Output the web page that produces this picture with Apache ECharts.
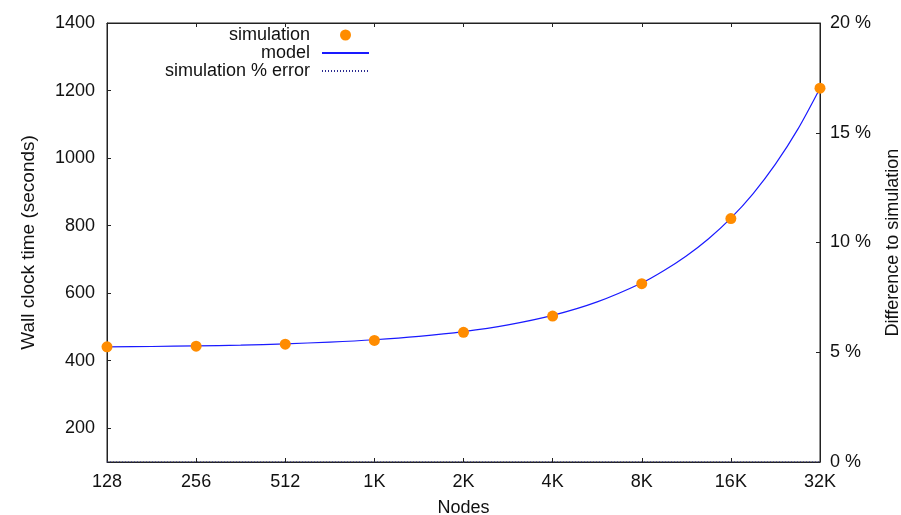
<!DOCTYPE html>
<html>
<head>
<meta charset="utf-8">
<script src="https://cdn.jsdelivr.net/npm/echarts@6/dist/echarts.min.js"></script>
<style>
html,body{margin:0;padding:0;background:#fff;}
#chart{width:901px;height:515px;}
</style>
</head>
<body>
<div id="chart"></div>
<script>
// Node counts (x categories, evenly spaced on a log2 scale)
const nodeLabels = ['128', '256', '512', '1K', '2K', '4K', '8K', '16K', '32K'];
// Simulation wall-clock time (seconds) at each node count
const simulationValues = [441, 443, 449, 460, 484, 532, 628, 821, 1207];
// Model curve: positions (in node-label steps) and values
const modelPositions = [0, 0.5, 1, 1.5, 2, 2.5, 3, 3.5, 4, 4.5, 5, 5.5, 6, 6.25, 6.5, 6.75, 7, 7.25, 7.5, 7.75, 8];
const modelValues = [441, 442, 444, 446, 450, 455, 462, 472, 486, 506, 534, 574, 630, 667, 710, 761, 822, 895, 982, 1085, 1207];
// Simulation % error (right axis), lies on the 0 % line
const errorValues = [0, 0, 0, 0, 0, 0, 0, 0, 0];
// Tick labels
const leftTicks = [200, 400, 600, 800, 1000, 1200, 1400];
const rightTicks = [0, 5, 10, 15, 20];

const FONT = 'Liberation Sans, Arial, Helvetica, sans-serif';
const FS = 18;
const chart = echarts.init(document.getElementById('chart'));

const simData = simulationValues.map((v, i) => [i, v]);
const modelData = modelValues.map((v, i) => [modelPositions[i], v]);
const errData = errorValues.map((v, i) => [i, v]);

const axisLineStyle = {color: '#222', width: 1};
const hiddenSymbol = {color: 'rgba(0,0,0,0)', borderColor: 'rgba(0,0,0,0)', borderWidth: 0, opacity: 0};

chart.setOption({
  animation: false,
  backgroundColor: '#fff',
  textStyle: {fontFamily: FONT},
  grid: {left: 107, right: 81, top: 23, bottom: 53, show: true, borderColor: '#222', borderWidth: 1,
    containLabel: false, outerBoundsMode: 'none'},
  legend: {
    right: 531, top: 26, orient: 'vertical', align: 'right',
    itemWidth: 47, itemHeight: 11, itemGap: 0, padding: 0,
    textStyle: {fontFamily: FONT, fontSize: FS, color: '#111', lineHeight: 18, padding: [0, 7, 0, 0]},
    data: [
      {name: 'simulation', icon: 'circle'},
      {name: 'model', itemStyle: hiddenSymbol},
      {name: 'simulation % error', itemStyle: hiddenSymbol}
    ]
  },
  xAxis: [{
    type: 'value', min: 0, max: nodeLabels.length - 1, interval: 1,
    name: 'Nodes', nameLocation: 'middle', nameGap: 37,
    nameTextStyle: {fontFamily: FONT, fontSize: FS, color: '#111'},
    axisLine: {show: true, onZero: false, lineStyle: axisLineStyle},
    axisTick: {show: true, inside: true, length: 4, lineStyle: axisLineStyle},
    axisLabel: {fontFamily: FONT, fontSize: FS, color: '#111', margin: 11,
      formatter: v => nodeLabels[Math.round(v)] ?? ''},
    splitLine: {show: false}
  }, {
    type: 'value', position: 'top', min: 0, max: nodeLabels.length - 1, interval: 1,
    axisLine: {show: true, onZero: false, lineStyle: axisLineStyle},
    axisTick: {show: true, inside: true, length: 4, lineStyle: axisLineStyle},
    axisLabel: {show: false},
    splitLine: {show: false}
  }],
  yAxis: [{
    type: 'value', min: 100, max: 1400,
    name: 'Wall clock time (seconds)', nameLocation: 'middle', nameGap: 69,
    nameTextStyle: {fontFamily: FONT, fontSize: FS + 1, color: '#111'},
    axisLine: {show: true, onZero: false, lineStyle: axisLineStyle},
    axisTick: {show: true, inside: true, length: 4, lineStyle: axisLineStyle, customValues: leftTicks},
    axisLabel: {fontFamily: FONT, fontSize: FS, color: '#111', margin: 12, customValues: leftTicks,
      formatter: v => (leftTicks.indexOf(v) >= 0 ? String(v) : '')},
    splitLine: {show: false}
  }, {
    type: 'value', position: 'right', min: 0, max: 20, interval: 5,
    name: 'Difference to simulation', nameLocation: 'middle', nameGap: 64,
    nameTextStyle: {fontFamily: FONT, fontSize: FS, color: '#111'},
    axisLine: {show: true, onZero: false, lineStyle: axisLineStyle},
    axisTick: {show: true, inside: true, length: 4, lineStyle: axisLineStyle},
    axisLabel: {fontFamily: FONT, fontSize: FS, color: '#111', margin: 10,
      formatter: v => (rightTicks.indexOf(v) >= 0 ? v + ' %' : '')},
    splitLine: {show: false}
  }],
  series: [{
    name: 'model', type: 'line', xAxisIndex: 0, yAxisIndex: 0,
    data: modelData, smooth: 0.3, symbol: 'none', z: 3,
    lineStyle: {color: '#1a1aff', width: 1.2},
    itemStyle: {color: '#1a1aff'}
  }, {
    name: 'simulation % error', type: 'line', xAxisIndex: 0, yAxisIndex: 1,
    data: errData, symbol: 'none', z: 2,
    lineStyle: {color: '#2a2a90', width: 1, type: [1, 2]},
    itemStyle: {color: '#2a2a90'}
  }, {
    name: 'simulation', type: 'scatter', xAxisIndex: 0, yAxisIndex: 0,
    data: simData, symbol: 'circle', symbolSize: 11, z: 4,
    itemStyle: {color: '#ff8c00', opacity: 1}
  }]
});
</script>
</body>
</html>
